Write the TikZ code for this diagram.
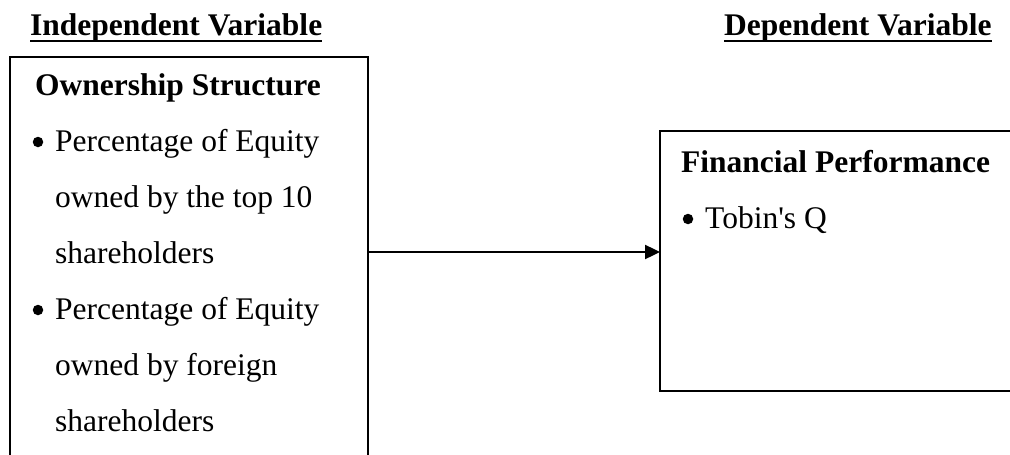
\documentclass[tikz,border=0pt]{standalone}
\usepackage{fontspec}
\setmainfont{Liberation Serif}
\usetikzlibrary{arrows.meta}
\tikzset{
  varbox/.style={draw,rectangle,line width=2.6pt,anchor=north west,inner sep=0pt,outer sep=0pt},
  txt/.style={anchor=base west,inner sep=0pt,font=\fontsize{31.5}{36}\selectfont},
  hd/.style={txt,font=\fontsize{31.5}{36}\selectfont\bfseries},
  dot/.style={circle,fill,inner sep=0pt,minimum size=10.5pt},
  flow/.style={-{Triangle[length=15pt,width=14pt]},line width=2.4pt},
}
\begin{document}
\begin{tikzpicture}[x=1pt,y=-1pt,line cap=butt]
\clip (0,0) rectangle (1010,455);
% headings
\node[hd] (hindep) at (30,35) {Independent Variable};
\node[hd] (hdep) at (724,35) {Dependent Variable};
\draw[line width=2.8pt] ([yshift=-6pt]hindep.base west) -- ([yshift=-6pt]hindep.base east);
\draw[line width=2.8pt] ([yshift=-6pt]hdep.base west) -- ([yshift=-6pt]hdep.base east);
% boxes
\node[varbox,minimum width=358pt,minimum height=420pt] (indep) at (10,57) {};
\node[varbox,minimum width=370pt,minimum height=260pt] (dep) at (660,131) {};
% left box text
\node[hd] (own) at (35,95) {Ownership Structure};
\node[dot] (b1) at (38,142) {};
\node[txt] (p1) at (55,151) {Percentage of Equity};
\node[txt] (p1b) at (55,207) {owned by the top 10};
\node[txt] (p1c) at (55,263) {shareholders};
\node[dot] (b2) at (38,310) {};
\node[txt] (p2) at (55,319) {Percentage of Equity};
\node[txt] (p2b) at (55,375) {owned by foreign};
\node[txt] (p2c) at (55,431) {shareholders};
% right box text
\node[hd] (fin) at (681,172) {Financial Performance};
\node[dot] (b3) at (688,219) {};
\node[txt] (tq) at (705,228) {Tobin\textquotesingle s Q};
% arrow
\coordinate (arr) at (0,252);
\draw[flow] (indep.east |- arr) -- (dep.west |- arr);
\end{tikzpicture}
\end{document}
